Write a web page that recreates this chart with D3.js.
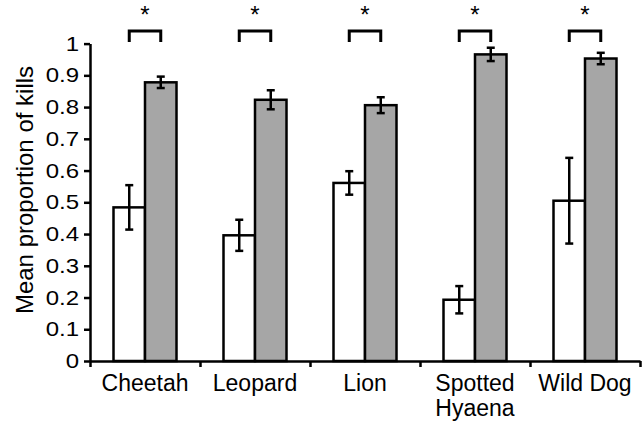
<html>
<head>
<script src="https://d3js.org/d3.v7.min.js"></script>
<style>
  body { margin: 0; background: white; }
  text { font-family: "Liberation Sans", Arial, sans-serif; fill: #000; }
</style>
</head>
<body>
<script>
// chart data
var categories = ["Cheetah", "Leopard", "Lion", "Spotted Hyaena", "Wild Dog"];
var whiteMean = [0.484, 0.396, 0.561, 0.193, 0.505];
var whiteErr  = [0.070, 0.049, 0.037, 0.043, 0.135];
var greyMean  = [0.878, 0.823, 0.806, 0.966, 0.953];
var greyErr   = [0.018, 0.030, 0.025, 0.021, 0.018];
var yTicks = [0, 0.1, 0.2, 0.3, 0.4, 0.5, 0.6, 0.7, 0.8, 0.9, 1];
var yTickLabels = ["0", "0.1", "0.2", "0.3", "0.4", "0.5", "0.6", "0.7", "0.8", "0.9", "1"];

var width = 644, height = 421;
var svg = d3.select("body").append("svg")
  .attr("width", width)
  .attr("height", height);

var y = d3.scaleLinear().domain([0, 1]).range([361, 43.6]);
var x = d3.scaleBand().domain(categories).range([90, 640]);
var xEdge = d3.scaleLinear().domain([0, categories.length]).range([90, 640]);
var barW = 31.5;

// bars
var g = svg.append("g");
categories.forEach(function(c, i) {
  var cx = x(c) + x.bandwidth() / 2;
  g.append("rect")
    .attr("x", cx - barW).attr("width", barW)
    .attr("y", y(whiteMean[i])).attr("height", y(0) - y(whiteMean[i]))
    .attr("fill", "#fff").attr("stroke", "#000").attr("stroke-width", 2.5);
  g.append("rect")
    .attr("x", cx).attr("width", barW)
    .attr("y", y(greyMean[i])).attr("height", y(0) - y(greyMean[i]))
    .attr("fill", "#a6a6a6").attr("stroke", "#000").attr("stroke-width", 2.5);

  // error bars
  [[cx - barW / 2, whiteMean[i], whiteErr[i]], [cx + barW / 2, greyMean[i], greyErr[i]]].forEach(function(e) {
    var hi = y(e[1] + e[2]), lo = y(e[1] - e[2]);
    g.append("line").attr("x1", e[0]).attr("x2", e[0]).attr("y1", hi).attr("y2", lo)
      .attr("stroke", "#000").attr("stroke-width", 2.5);
    g.append("line").attr("x1", e[0] - 4).attr("x2", e[0] + 4).attr("y1", hi).attr("y2", hi)
      .attr("stroke", "#000").attr("stroke-width", 2.5);
    g.append("line").attr("x1", e[0] - 4).attr("x2", e[0] + 4).attr("y1", lo).attr("y2", lo)
      .attr("stroke", "#000").attr("stroke-width", 2.5);
  });

  // significance bracket
  var bx1 = cx - barW / 2, bx2 = cx + barW / 2;
  g.append("path")
    .attr("d", "M" + bx1 + "," + y(1.005) + "V" + y(1.04) + "H" + bx2 + "V" + y(1.005))
    .attr("fill", "none").attr("stroke", "#000").attr("stroke-width", 3);
  g.append("text")
    .attr("x", cx).attr("y", y(1.065))
    .attr("text-anchor", "middle")
    .style("font-size", "24px")
    .text("*");
});

// y axis
var yAxis = svg.append("g")
  .attr("transform", "translate(90,0)")
  .call(d3.axisLeft(y).tickValues(yTicks).tickSize(6).tickSizeOuter(0).tickFormat(""));
yAxis.selectAll("path, line").attr("stroke", "#000").attr("stroke-width", 2.5);

yTicks.forEach(function(t, i) {
  svg.append("text")
    .attr("transform", "translate(79," + y(t) + ") scale(1.2,1)")
    .attr("text-anchor", "end")
    .attr("dy", "0.35em")
    .style("font-size", "20px")
    .text(yTickLabels[i]);
});

// x axis
var xAxis = svg.append("g")
  .attr("transform", "translate(0," + y(0) + ")")
  .call(d3.axisBottom(xEdge).tickValues(d3.range(categories.length + 1)).tickSize(6).tickSizeOuter(0).tickFormat(""));
xAxis.selectAll("path, line").attr("stroke", "#000").attr("stroke-width", 2.5);

categories.forEach(function(c) {
  var t = svg.append("text")
    .attr("x", x(c) + x.bandwidth() / 2)
    .attr("y", 391)
    .attr("text-anchor", "middle")
    .style("font-size", "23px");
  c.split(" ").length > 1 && c != "Wild Dog"
    ? c.split(" ").forEach(function(w, k) {
        t.append("tspan").attr("x", x(c) + x.bandwidth() / 2).attr("dy", k ? 25 : 0).text(w);
      })
    : t.text(c);
});

// y title
svg.append("text")
  .attr("transform", "translate(33,190) rotate(-90)")
  .attr("text-anchor", "middle")
  .style("font-size", "24px")
  .text("Mean proportion of kills");
</script>
</body>
</html>
